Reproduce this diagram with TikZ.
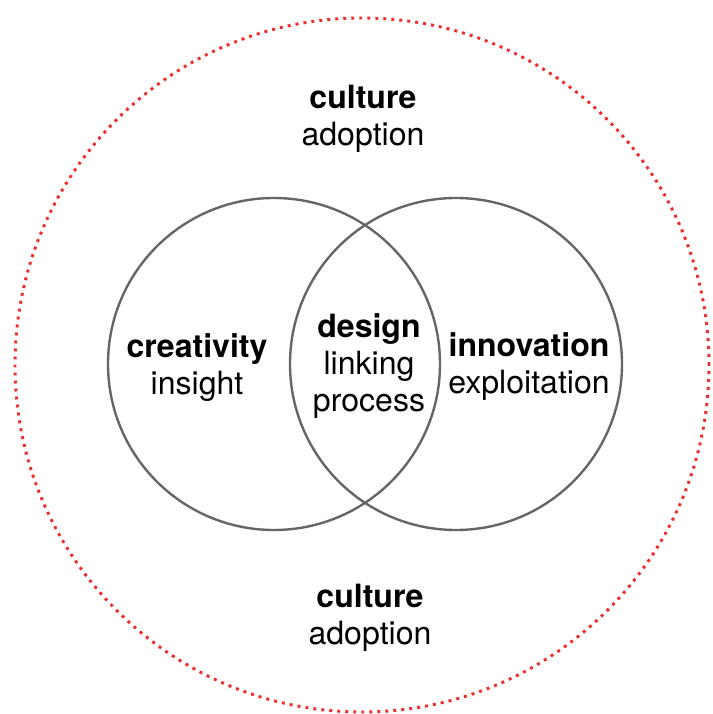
\documentclass[tikz,border=0pt]{standalone}
\usepackage{fontspec}
\setmainfont{TeX Gyre Heros}
\usepackage{tikz}
\usetikzlibrary{positioning}
\definecolor{dotred}{RGB}{238,45,45}
\tikzstyle{set}=[shape=circle,
                 draw=black!60,
                 line width=1.7pt,
                 minimum size=8.3cm,
                 inner sep=0pt]
\tikzstyle{ctx}=[shape=circle,
                 draw=dotred,
                 line width=2.1pt,
                 dash pattern=on 2.1pt off 3.6pt,
                 minimum size=17.35cm,
                 inner sep=0pt]
\tikzstyle{lbl}=[align=center,
                 inner sep=0pt,
                 font=\fontsize{22.8}{26.3}\selectfont]

\begin{document}
\begin{tikzpicture}

\useasboundingbox (-9.05,-8.725) rectangle (8.75,9.125);

% outer context
\node[ctx] (cult) at (0,0) {};

% sets
\node[set] (creat) at (-2.2,0.025) {};
\node[set] (innov) at (2.35,0.025) {};

% labels
\node[lbl] (culttop) at (0.025,6.15) {\textbf{culture}\\adoption};
\node[lbl] (cultbot) at (0.2,-6.31) {\textbf{culture}\\adoption};
\node[lbl] (creatlbl) at (-4.125,-0.075) {\textbf{creativity}\\insight};
\node[lbl] (desiglbl) at (0.175,-0.035) {\textbf{design}\\linking\\process};
\node[lbl] (innovlbl) at (4.175,-0.05) {\textbf{innovation}\\exploitation};

\end{tikzpicture}
\end{document}
